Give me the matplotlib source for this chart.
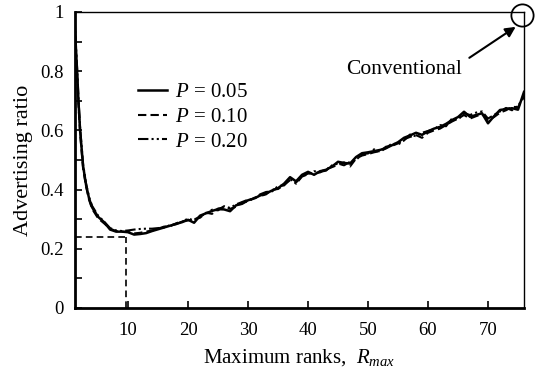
import matplotlib
matplotlib.use("Agg")
import matplotlib.pyplot as plt
from matplotlib.ticker import MultipleLocator, FixedLocator

plt.rcParams['font.family'] = ['Liberation Serif', 'DejaVu Serif']
plt.rcParams['mathtext.fontset'] = 'custom'
plt.rcParams['mathtext.rm'] = 'Liberation Serif'
plt.rcParams['mathtext.it'] = 'Liberation Serif:italic'

# ---- data ----
ranks = [1, 1.25, 1.5, 1.75, 2, 2.5, 3, 3.5, 4, 5, 6, 7, 8, 9, 10, 11, 12, 13, 14, 15,
         16, 17, 18, 19, 20, 21, 22, 23, 24, 25, 26, 27, 28, 29, 30, 31, 32, 33, 34, 35,
         36, 37, 38, 39, 40, 41, 42, 43, 44, 45, 46, 47, 48, 49, 50, 51, 52, 53, 54, 55,
         56, 57, 58, 59, 60, 61, 62, 63, 64, 65, 66, 67, 68, 69, 70, 71, 72, 73, 74, 75, 76]

ratio_p005 = [1.00, 0.90, 0.80, 0.69, 0.60, 0.48, 0.415, 0.37, 0.34, 0.308, 0.29, 0.265, 0.258, 0.258, 0.256,
              0.248, 0.250, 0.253, 0.260, 0.266, 0.272, 0.278, 0.284, 0.290, 0.298, 0.288, 0.312, 0.320,
              0.328, 0.334, 0.333, 0.327, 0.347, 0.352, 0.364, 0.370, 0.380, 0.387, 0.397, 0.405, 0.420,
              0.442, 0.428, 0.450, 0.460, 0.450, 0.462, 0.467, 0.478, 0.494, 0.490, 0.488, 0.510, 0.523,
              0.526, 0.530, 0.534, 0.540, 0.550, 0.560, 0.575, 0.583, 0.592, 0.585, 0.597, 0.606, 0.612,
              0.622, 0.635, 0.645, 0.663, 0.646, 0.652, 0.658, 0.624, 0.648, 0.669, 0.672, 0.675, 0.670, 0.730]

ratio_p010 = [1.00, 0.89, 0.79, 0.68, 0.59, 0.47, 0.41, 0.365, 0.335, 0.303, 0.286, 0.268, 0.260, 0.258, 0.257,
              0.252, 0.254, 0.258, 0.262, 0.268, 0.275, 0.276, 0.286, 0.293, 0.296, 0.300, 0.305, 0.322,
              0.318, 0.336, 0.340, 0.335, 0.342, 0.356, 0.360, 0.372, 0.378, 0.384, 0.400, 0.402, 0.416,
              0.432, 0.424, 0.446, 0.454, 0.456, 0.458, 0.470, 0.476, 0.484, 0.492, 0.478, 0.505, 0.515,
              0.520, 0.526, 0.530, 0.545, 0.548, 0.556, 0.570, 0.578, 0.584, 0.575, 0.592, 0.600, 0.606,
              0.618, 0.630, 0.640, 0.652, 0.640, 0.648, 0.655, 0.635, 0.645, 0.660, 0.668, 0.680, 0.678, 0.718]

ratio_p020 = [1.00, 0.91, 0.81, 0.70, 0.61, 0.485, 0.42, 0.375, 0.345, 0.312, 0.292, 0.27, 0.262, 0.260, 0.262,
              0.265, 0.267, 0.268, 0.268, 0.270, 0.272, 0.280, 0.283, 0.292, 0.302, 0.296, 0.310, 0.318,
              0.332, 0.330, 0.344, 0.338, 0.350, 0.358, 0.366, 0.368, 0.384, 0.392, 0.394, 0.412, 0.414,
              0.436, 0.420, 0.444, 0.452, 0.462, 0.460, 0.464, 0.482, 0.488, 0.482, 0.494, 0.500, 0.520,
              0.522, 0.536, 0.528, 0.540, 0.556, 0.552, 0.566, 0.586, 0.580, 0.592, 0.598, 0.604, 0.618,
              0.614, 0.640, 0.636, 0.658, 0.652, 0.660, 0.664, 0.640, 0.652, 0.664, 0.676, 0.668, 0.684, 0.712]

series_labels = ['$P$ = 0.05', '$P$ = 0.10', '$P$ = 0.20']

guide_rank = 9.6
guide_ratio = 0.24

conv_point = (75.6, 0.99)
conv_text = (56.0, 0.805)
arrow_tail = (66.5, 0.84)
arrow_head = (75.0, 0.955)

xticks = [10, 20, 30, 40, 50, 60, 70]
yticks = [0, 0.2, 0.4, 0.6, 0.8, 1.0]
ytick_labels = ['0', '0.2', '0.4', '0.6', '0.8', '1']

X_MIN, X_MAX = 1.15, 76

# ---- figure ----
fig = plt.figure(figsize=(5.4, 3.76), dpi=100)
ax = fig.add_axes([75/540, 68/376, 449/540, 296/376])

ax.plot(ranks, ratio_p005, color='black', lw=1.8, ls='-', label=series_labels[0])
ax.plot(ranks, ratio_p010, color='black', lw=1.5, ls=(0, (4, 2)), label=series_labels[1])
ax.plot(ranks, ratio_p020, color='black', lw=1.5, ls=(0, (5, 1.5, 1, 1.5, 1, 1.5)), label=series_labels[2])

ax.plot([X_MIN, guide_rank], [guide_ratio, guide_ratio], color='black', lw=1.2, ls=(0, (4, 2.5)))
ax.plot([guide_rank, guide_rank], [0, guide_ratio], color='black', lw=1.2, ls=(0, (4, 2.5)))

ax.set_xlim(X_MIN, X_MAX)
ax.set_ylim(0, 1)

ax.xaxis.set_major_locator(FixedLocator(xticks))
ax.set_yticks(yticks)
ax.set_yticklabels(ytick_labels)
ax.yaxis.set_minor_locator(MultipleLocator(0.1))
ax.tick_params(axis='both', which='both', direction='in', labelsize=13.5, color='black')
ax.tick_params(axis='x', which='major', length=5, width=1.2, pad=10)
ax.tick_params(axis='y', which='major', length=5, width=1.2, pad=8)
ax.tick_params(axis='y', which='minor', length=5, width=1.2)
ax.tick_params(top=False, right=False)

for s in ['left', 'bottom']:
    ax.spines[s].set_linewidth(2)
for s in ['top', 'right']:
    ax.spines[s].set_linewidth(1)

ax.set_xlabel('Maximum ranks,  $R_{max}$', fontsize=15, labelpad=6)
ax.set_ylabel('Advertising ratio', fontsize=16, labelpad=5)

leg = ax.legend(loc='upper left', bbox_to_anchor=(0.116, 0.797), frameon=False, fontsize=15,
                handlelength=1.4, handletextpad=0.4, labelspacing=0.25, borderpad=0)

ax.plot([conv_point[0]], [conv_point[1]], marker='o', ms=16, mfc='none', mec='black',
        mew=1.3, clip_on=False)
ax.annotate('', xy=arrow_head, xytext=arrow_tail,
            arrowprops=dict(arrowstyle='-|>', color='black', lw=1.5, mutation_scale=15))
ax.text(conv_text[0], conv_text[1], 'Conventional', fontsize=15.5, ha='center', va='center')

fig.savefig('out.png', dpi=100)
